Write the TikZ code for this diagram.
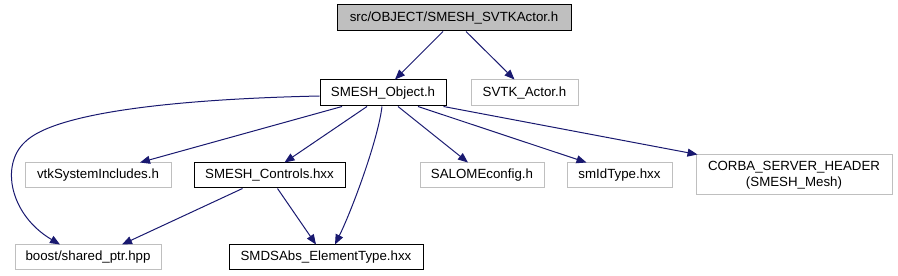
\documentclass[tikz,border=0pt]{standalone}
\usepackage{fontspec}
\setmainfont{Liberation Sans}
\usetikzlibrary{arrows.meta}
\definecolor{edgeblue}{RGB}{25,25,112}
\definecolor{boxgray}{RGB}{191,191,191}
\begin{document}
\begin{tikzpicture}[x=1pt,y=1pt,
  every node/.style={font=\fontsize{13.3}{15.5}\selectfont, inner sep=0pt, align=center},
  graybox/.style={draw=boxgray, line width=1pt, minimum height=25pt},
  blackbox/.style={draw=black, line width=1pt, minimum height=26pt},
  topbox/.style={draw=black, fill=boxgray, line width=1pt, minimum height=26pt},
  dep/.style={draw=edgeblue, line width=1pt, -{Triangle[length=10pt,width=8pt]}}]
\useasboundingbox (0,0) rectangle (898,276);
\node[topbox, minimum width=234pt] (top) at (454,258) {src/OBJECT/SMESH\_SVTKActor.h};
\node[blackbox, minimum width=126pt] (so) at (383,183) {SMESH\_Object.h};
\node[graybox, minimum width=107pt, minimum height=26pt] (svtk) at (524.5,183) {SVTK\_Actor.h};
\node[graybox, minimum width=146pt] (vtk) at (98,100.5) {vtkSystemIncludes.h};
\node[blackbox, minimum width=151pt, minimum height=25pt] (ctrl) at (269.5,100.5) {SMESH\_Controls.hxx};
\node[graybox, minimum width=124pt] (salome) at (482,100.5) {SALOMEconfig.h};
\node[graybox, minimum width=105pt] (smid) at (619.5,100.5) {smIdType.hxx};
\node[graybox, minimum width=196pt, minimum height=40pt] (corba) at (794,101) {CORBA\_SERVER\_HEADER\\(SMESH\_Mesh)};
\node[graybox, minimum width=146pt] (boost) at (88,18.5) {boost/shared\_ptr.hpp};
\node[blackbox, minimum width=194pt, minimum height=25pt] (smds) at (326,18.5) {SMDSAbs\_ElementType.hxx};

\draw[dep] ([xshift=-11pt]top.south) -- ([xshift=12pt]so.north);
\draw[dep] ([xshift=12pt]top.south) -- ([xshift=-10pt]svtk.north);
\draw[dep] ([yshift=-3pt]so.west) .. controls (180,177) and (55,164) .. (25,134)
  .. controls (0,111) and (10,61) .. ([xshift=-28pt]boost.north);
\draw[dep] ([xshift=-41pt]so.south) -- ([xshift=42pt]vtk.north);
\draw[dep] ([xshift=-16pt]so.south) -- ([xshift=15pt]ctrl.north);
\draw[dep] ([xshift=-1pt]so.south) .. controls (378,136) and (352,66) .. ([xshift=9pt]smds.north);
\draw[dep] ([xshift=15pt]so.south) -- ([xshift=-14pt]salome.north);
\draw[dep] ([xshift=35pt]so.south) -- ([xshift=-33pt]smid.north);
\draw[dep] ([xshift=-3pt]so.south east) -- ([xshift=2pt]corba.north west);
\draw[dep] ([xshift=-27pt]ctrl.south) -- ([xshift=34pt]boost.north);
\draw[dep] ([xshift=8pt]ctrl.south) -- ([xshift=-10pt]smds.north);
\end{tikzpicture}
\end{document}
